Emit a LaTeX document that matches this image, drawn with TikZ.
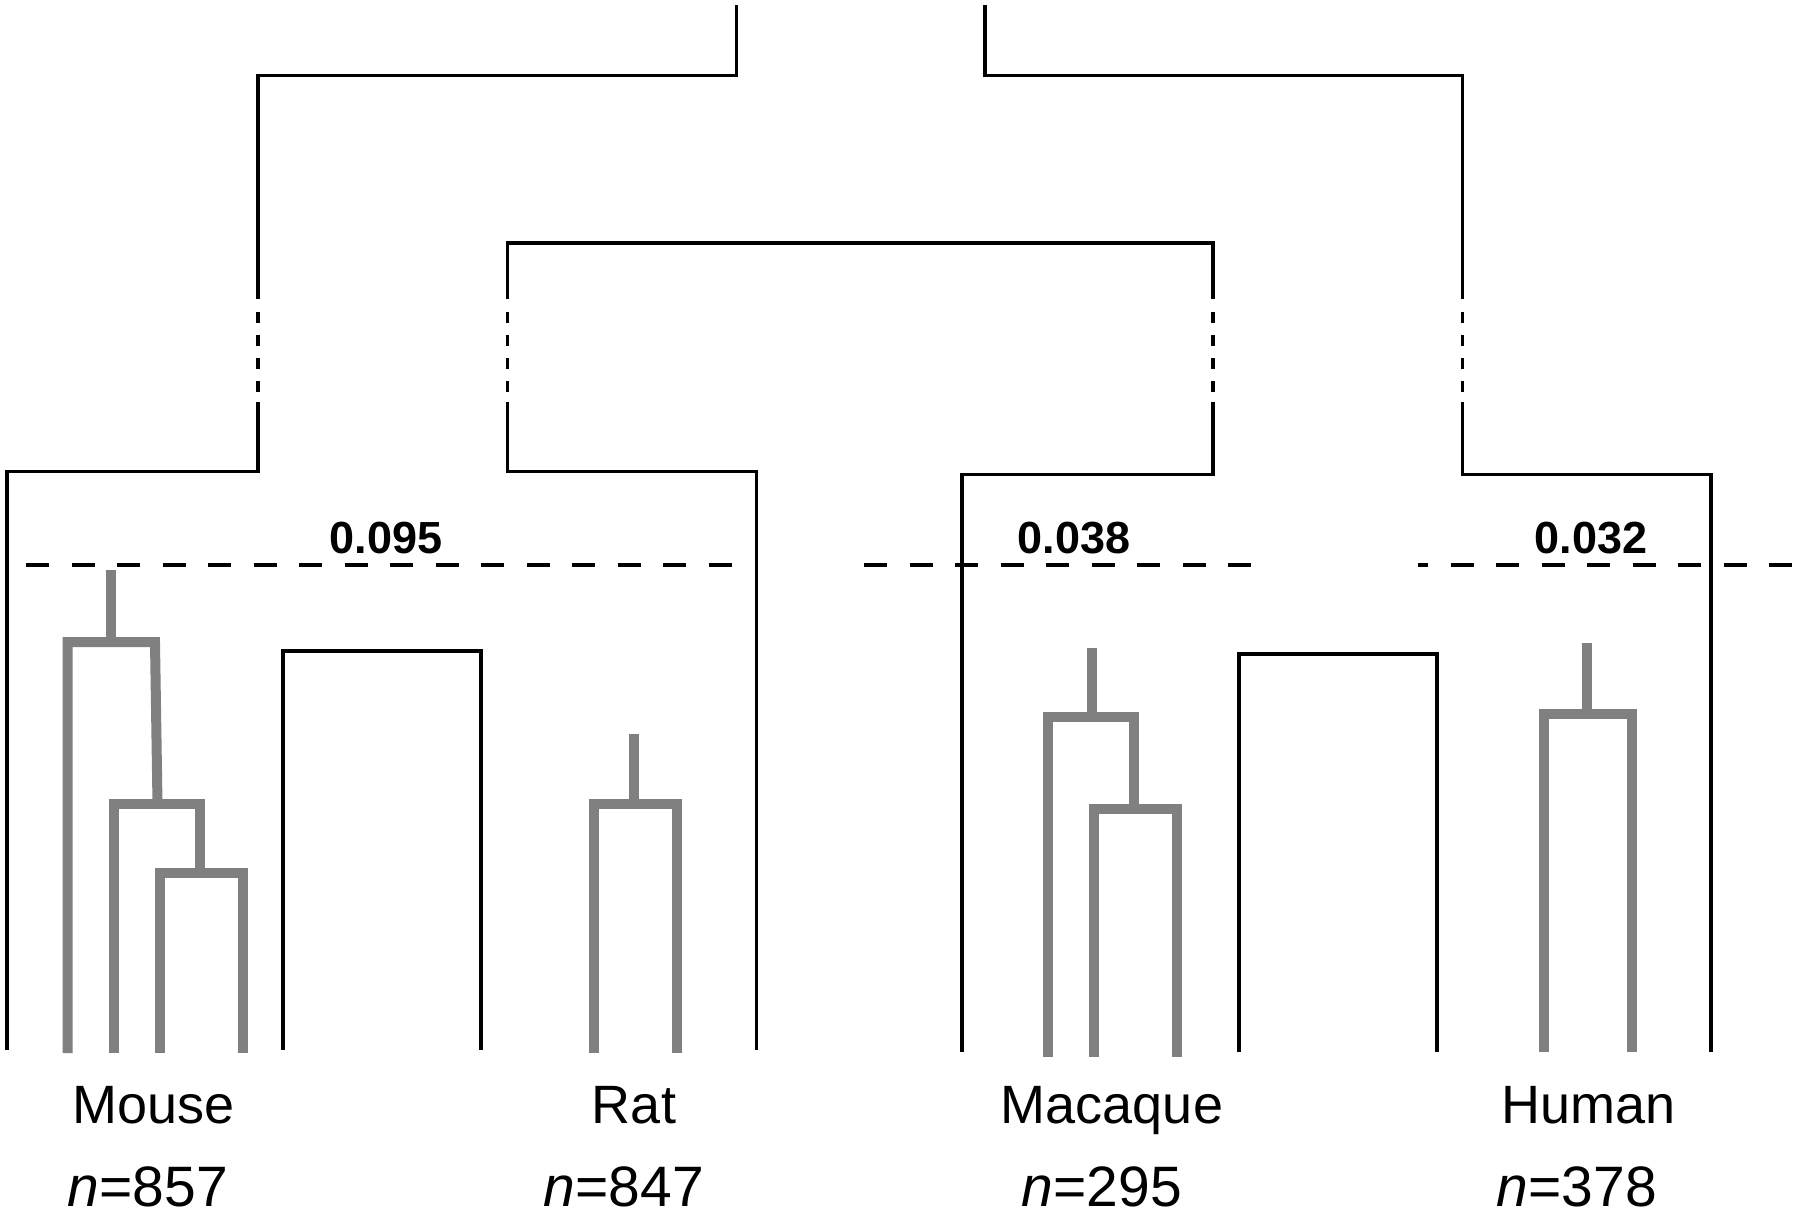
\documentclass[tikz,border=0pt]{standalone}
\usepackage{fontspec}
\setmainfont{Liberation Sans}
\begin{document}
\begin{tikzpicture}[x=1pt,y=-1pt,
  tree/.style={draw=black,line width=3.6pt,line join=miter},
  gtree/.style={line width=10pt,line join=miter,draw={rgb,255:red,128;green,128;blue,128}},
  cutline/.style={draw=black,line width=4.6pt,dash pattern=on 23pt off 22.5pt},
  gapline/.style={draw=black,line width=3.6pt,dash pattern=on 11pt off 12pt},
  sp/.style={font=\fontsize{54}{60}\selectfont,anchor=base,inner sep=0pt},
  cnt/.style={font=\fontsize{57}{64}\selectfont,anchor=base,inner sep=0pt},
  thr/.style={font=\bfseries\fontsize{45}{50}\selectfont,anchor=base,inner sep=0pt}]
\useasboundingbox (0,0) rectangle (1800,1216);
% key coordinates
\coordinate (rootL) at (736.5,5);
\coordinate (rootR) at (985,5);
\coordinate (hL) at (258,75.4);
\coordinate (hLr) at (736.5,75.4);
\coordinate (hR) at (1462.6,75.4);
\coordinate (hRl) at (985,75.4);
\coordinate (inL) at (507.5,243);
\coordinate (inR) at (1213,243);
% top structure
\draw[tree] (rootL) -- (hLr) -- (hL) -- (258,298.5);
\draw[tree] (rootR) -- (hRl) -- (hR) -- (1462.6,298.5);
\draw[tree] (507.5,298.5) -- (inL) -- (inR) -- (1213,298.5);
% broken segments
\draw[gapline] (258,312) -- (258,392);
\draw[gapline] (507.5,312) -- (507.5,392);
\draw[gapline] (1213,312) -- (1213,392);
\draw[gapline] (1462.6,312) -- (1462.6,392);
% lower parts
\draw[tree] (258,402) -- (258,471.5) -- (7,471.5) -- (7,1050);
\draw[tree] (507.5,402) -- (507.5,471.5) -- (756.6,471.5) -- (756.6,1050);
\draw[tree] (1213,402) -- (1213,474.5) -- (962,474.5) -- (962,1052);
\draw[tree] (1462.6,402) -- (1462.6,474.5) -- (1711,474.5) -- (1711,1052);
% inner black boxes
\draw[tree] (283,1050) -- (283,651) -- (481,651) -- (481,1050);
\draw[tree] (1239,1052) -- (1239,654) -- (1437,654) -- (1437,1052);
% cut lines
\draw[cutline] (26,565) -- (732.5,565);
\draw[cutline] (864,565) -- (1251,565);
\draw[cutline,dash phase=13pt] (1418,565) -- (1800,565);
% mouse grey tree
\draw[gtree] (111,570) -- (111,642);
\draw[gtree] (67.7,1053) -- (67.7,642) -- (155,642) -- (157.5,803.6);
\draw[gtree] (113.7,1053) -- (113.7,803.6) -- (199.8,803.6) -- (199.8,873);
\draw[gtree] (159.6,1053) -- (159.6,873) -- (242.8,873) -- (242.8,1053);
% rat grey tree
\draw[gtree] (634,734) -- (634,803.6);
\draw[gtree] (594,1053) -- (594,803.6) -- (677,803.6) -- (677,1053);
% macaque grey tree
\draw[gtree] (1092,648) -- (1092,717);
\draw[gtree] (1048,1057) -- (1048,717) -- (1134,717) -- (1134,809);
\draw[gtree] (1094,1057) -- (1094,809) -- (1177,809) -- (1177,1057);
% human grey tree
\draw[gtree] (1587,643) -- (1587,713.5);
\draw[gtree] (1544,1052) -- (1544,713.5) -- (1632,713.5) -- (1632,1052);
% thresholds
\node[thr] (t1) at (386,553) {0.095};
\node[thr] (t2) at (1074,553) {0.038};
\node[thr] (t3) at (1591,553) {0.032};
% species labels
\node[sp] (mouse) at (153.6,1123.5) {Mouse};
\node[sp] (rat) at (634,1123.5) {Rat};
\node[sp] (macaque) at (1112,1123.5) {Macaque};
\node[sp] (human) at (1589,1123.5) {Human};
\node[cnt] (nmouse) at (148,1206.5) {\textit{n}=857};
\node[cnt] (nrat) at (624,1206.5) {\textit{n}=847};
\node[cnt] (nmac) at (1102,1206.5) {\textit{n}=295};
\node[cnt] (nhum) at (1577,1206.5) {\textit{n}=378};
\end{tikzpicture}
\end{document}
